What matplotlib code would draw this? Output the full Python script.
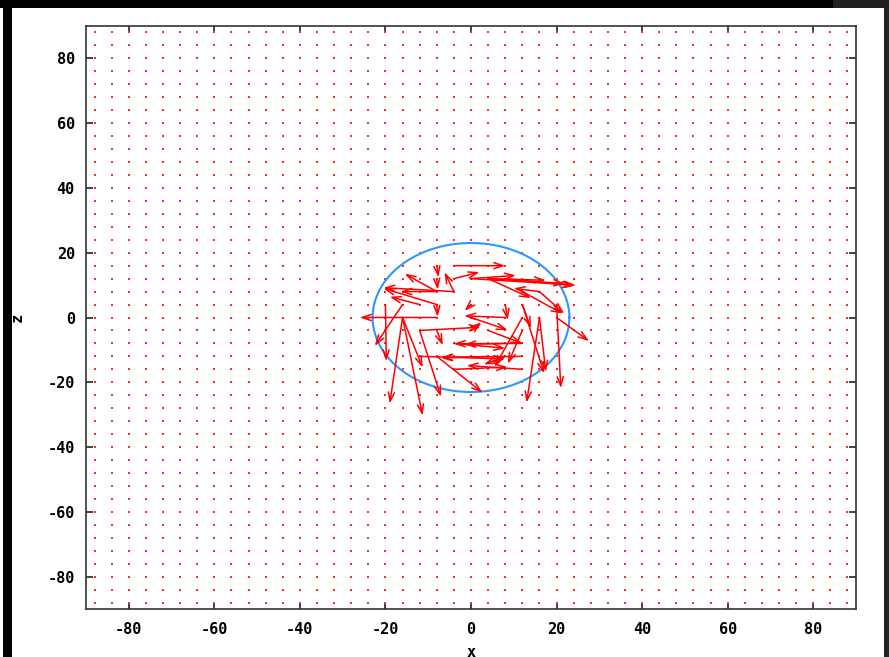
import numpy as np
import matplotlib
matplotlib.use('Agg')
import matplotlib.pyplot as plt
from matplotlib.patches import Rectangle

plt.rcParams['axes.unicode_minus'] = False

# grid of sample points (zero-length vectors show up as dots)
grid_vals = np.arange(-88, 89, 4)

# non-zero vectors: tail (x, z) and components (dx, dz)
vx = [-4, -8, -4, -4, 0, 4, 8, 0, 4, -8, -8, -4, -12, -8, -20, -16, -16, -16, -16, -12,
      12, 8, 12, -8, -4, 12, 20, 20, 16, 16, 12, 12, 16, 12, 8, 12, 8, 4, 16, 0,
      -12, -8, -8, -8, -8, 4, -12, 0, 4, 8, -4, 12, 0]
vz = [16, 8, 8, 12, 12, 12, 12, 12, 12, 4, 8, 8, 4, 0, 4, 4, 0, 0, 0, -4,
      -12, -8, -8, -12, -16, 0, 0, 4, 0, 0, 4, -4, 8, 8, 4, 4, 0, 12, 8, 0,
      -4, -4, 16, 12, 4, -12, -12, -4, -4, -12, -8, -16, 4]
vdx = [12, -7.5, -2.2, 6, 24.5, 18, 16, 10.5, 13.5, -12.5, -8.5, -16.5, -7, -18, 0.2, -6.5, -3, 4.7, 4.7, 5,
       -19, -9.6, -16, 10.7, 12.6, -6.5, 7.6, 1, -3, 1.5, 5.1, -3.4, 5.8, 9.4, 0.6, 2, -9.6, 10, -6, 8.6,
       14.3, 1.4, 0.4, 0.2, 0.2, -11, 20, 2.5, 8, -5, 12, -13, -1.5]
vdz = [0, 5.5, 6, 2, -2, -1.5, -2.2, 1, -0.5, 5, 0, 1.2, 2.4, 0, -17.5, -12.8, -26.6, -30.3, -15.5, -20.5,
       -0.3, -0.3, -0.1, -11.2, 0.7, -15.3, -7.3, -25.8, -26.3, -16.8, -21.3, -10.3, -6.8, -6.8, -4.8, -7.3, 0.5, -6, 1, -3.9,
       1, -4.6, -3.6, -3.4, -3.8, -0.5, -0.8, 2.5, -4, -2.5, -1.5, 1.2, -2]

# sphere outline
circle_r = 23
circle_t = np.linspace(0, 2 * np.pi, 400)

fig = plt.figure(figsize=(8.89, 6.57), dpi=100, facecolor='black')
bg = [((12 / 889, 0), 872 / 889, 649 / 657, 'white'),
      ((0, 0), 2.5 / 889, 649 / 657, 'white'),
      ((884 / 889, 0), 5 / 889, 1, '#222222'),
      ((833 / 889, 649 / 657), 56 / 889, 8 / 657, '#202020')]
for xy, w, h, c in bg:
    fig.patches.append(Rectangle(xy, w, h, transform=fig.transFigure,
                                 facecolor=c, edgecolor='none', zorder=-10))

ax = fig.add_axes([86 / 889, 48 / 657, 770 / 889, 583 / 657])
ax.set_zorder(5)
ax.set_facecolor('white')

gx, gz = np.meshgrid(grid_vals, grid_vals)
ax.plot(gx.ravel(), gz.ravel(), linestyle='none', marker='s', markersize=1.6,
        color='#ff2a2a', markeredgewidth=0)

for x0, z0, dx, dz in zip(vx, vz, vdx, vdz):
    ax.annotate('', xy=(x0 + dx, z0 + dz), xytext=(x0, z0),
                arrowprops=dict(arrowstyle='->,head_length=0.65,head_width=0.22',
                                color='red', lw=1.1, shrinkA=0, shrinkB=0))

ax.plot(circle_r * np.cos(circle_t), circle_r * np.sin(circle_t), color='#2d96ff', lw=1.5)

ax.set_xlim(-90, 90)
ax.set_ylim(-90, 90)
ticks = np.arange(-80, 81, 20)
ax.set_xticks(ticks)
ax.set_yticks(ticks)
ax.tick_params(direction='in', length=5, width=1.2, color='#222222',
               top=True, right=True, labelsize=11)
ax.tick_params(axis='x', pad=9)
ax.tick_params(axis='y', pad=8)
for lab in ax.get_xticklabels() + ax.get_yticklabels():
    lab.set_family('DejaVu Sans Mono')
    lab.set_fontweight('bold')
for sp in ax.spines.values():
    sp.set_color('#333333')
    sp.set_linewidth(1.2)

ax.set_xlabel('x', family='DejaVu Sans Mono', fontweight='bold', fontsize=11)
ax.set_ylabel('z', family='DejaVu Sans Mono', fontweight='bold', fontsize=11)
ax.xaxis.set_label_coords(0.5, -0.062)
ax.yaxis.set_label_coords(-0.080, 0.5)

plt.savefig('out.png', dpi=100, facecolor=fig.get_facecolor())
